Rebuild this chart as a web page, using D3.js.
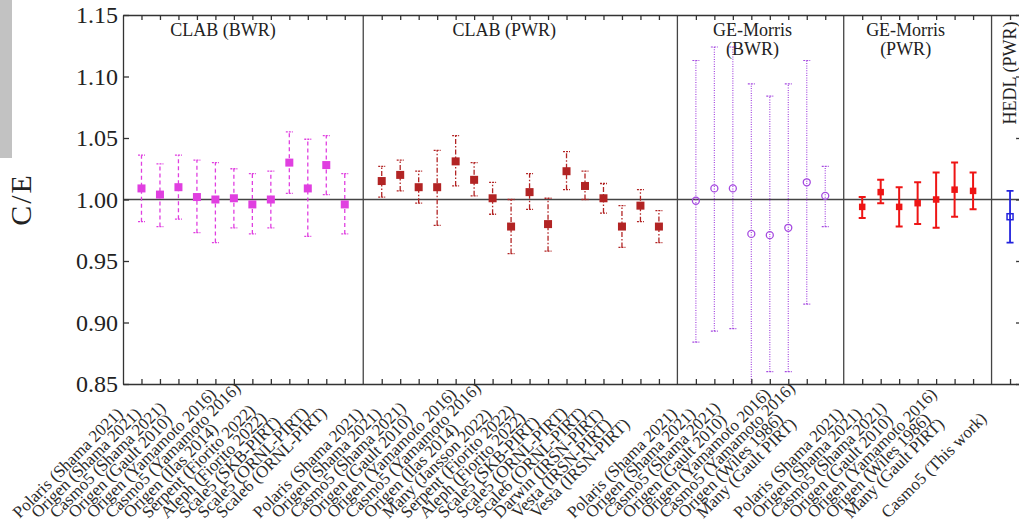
<!DOCTYPE html>
<html>
<head>
<meta charset="utf-8">
<script src="https://cdn.jsdelivr.net/npm/d3@7"></script>
<style>
  body { margin: 0; background: #fff; }
  svg { display: block; }
  text { font-family: "Liberation Serif", "Times New Roman", serif; fill: #222; }
</style>
</head>
<body>
<svg id="chart"></svg>
<script>
// ---- data (C/E value, lower and upper error bar ends) ----
var clabBwrLabels = ["Polaris (Shama 2021)", "Origen (Shama 2021)", "Casmo5 (Shama 2021)", "Origen (Gault 2010)",
    "Origen (Yamamoto 2016)", "Casmo5 (Yamamoto 2016)", "Origen (Ilas 2014)", "Serpent (Fiorito 2022)",
    "Aleph (Fiorito 2022)", "Scale5 (SKB-PIRT)", "Scale5 (ORNL-PIRT)", "Scale6 (ORNL-PIRT)"];
var clabBwrCE = [1.009, 1.004, 1.010, 1.002, 1.000, 1.001, 0.996, 1.000, 1.030, 1.009, 1.028, 0.996];
var clabBwrLo = [0.982, 0.978, 0.984, 0.973, 0.965, 0.977, 0.972, 0.977, 1.005, 0.970, 1.004, 0.972];
var clabBwrHi = [1.036, 1.029, 1.036, 1.032, 1.030, 1.025, 1.021, 1.023, 1.055, 1.049, 1.052, 1.021];

var clabPwrLabels = ["Polaris (Shama 2021)", "Origen (Shama 2021)", "Casmo5 (Shama 2021)", "Origen (Gault 2010)",
    "Origen (Yamamoto 2016)", "Casmo5 (Yamamoto 2016)", "Origen (Ilas 2014)", "Many (Jansson 2022)",
    "Serpent (Fiorito 2022)", "Aleph (Fiorito 2022)", "Scale5 (SKB-PIRT)", "Scale5 (ORNL-PIRT)",
    "Scale6 (ORNL-PIRT)", "Darwin (IRSN-PIRT)", "Vesta (IRSN-PIRT)", "Vesta (IRSN-PIRT)"];
var clabPwrCE = [1.015, 1.020, 1.010, 1.010, 1.031, 1.016, 1.001, 0.978, 1.006, 0.980, 1.023, 1.011, 1.001, 0.978, 0.995, 0.978];
var clabPwrLo = [1.002, 1.007, 0.997, 0.979, 1.011, 1.003, 0.988, 0.956, 0.992, 0.958, 1.008, 1.000, 0.989, 0.961, 0.982, 0.965];
var clabPwrHi = [1.027, 1.032, 1.023, 1.040, 1.052, 1.030, 1.014, 1.000, 1.021, 1.001, 1.039, 1.023, 1.013, 0.995, 1.008, 0.991];

var geBwrLabels = ["Polaris (Shama 2021)", "Origen (Shama 2021)", "Casmo5 (Shama 2021)", "Origen (Gault 2010)",
    "Origen (Yamamoto 2016)", "Casmo5 (Yamamoto 2016)", "Origen (Wiles 1986)", "Many (Gault PIRT)"];
var geBwrCE = [0.999, 1.009, 1.009, 0.972, 0.971, 0.977, 1.014, 1.003];
var geBwrLo = [0.884, 0.893, 0.895, 0.840, 0.860, 0.860, 0.915, 0.978];
var geBwrHi = [1.113, 1.124, 1.124, 1.094, 1.084, 1.094, 1.113, 1.027];

var gePwrLabels = ["Polaris (Shama 2021)", "Origen (Shama 2021)", "Casmo5 (Shama 2021)", "Origen (Gault 2010)",
    "Origen (Yamamoto 2016)", "Origen (Wiles 1986)", "Many (Gault PIRT)"];
var gePwrCE = [0.994, 1.006, 0.994, 0.997, 1.000, 1.008, 1.007];
var gePwrLo = [0.985, 0.997, 0.978, 0.980, 0.977, 0.986, 0.992];
var gePwrHi = [1.002, 1.016, 1.010, 1.014, 1.022, 1.030, 1.022];

var hedlLabels = ["Casmo5 (This work)"];
var hedlCE = [0.986];
var hedlLo = [0.965];
var hedlHi = [1.007];

var groupTitles = [["CLAB (BWR)"], ["CLAB (PWR)"], ["GE-Morris", "(BWR)"], ["GE-Morris", "(PWR)"], ["HEDL (PWR)"]];
var yTicks = [0.85, 0.90, 0.95, 1.00, 1.05, 1.10, 1.15];

// ---- layout ----
var w = 1019, h = 528;
var step = 18.48;
var plotLeft = 123, plotTop = 15, plotBottom = 384;
var xMax = 48.6;

var groups = [
    { labels: clabBwrLabels, ce: clabBwrCE, lo: clabBwrLo, hi: clabBwrHi, title: groupTitles[0],
      color: "#e03fe0", dash: "4,3", width: 1.3, marker: "square", size: 8, titleDx: -20 },
    { labels: clabPwrLabels, ce: clabPwrCE, lo: clabPwrLo, hi: clabPwrHi, title: groupTitles[1],
      color: "#b22424", dash: "5,2,1.5,2", width: 1.3, marker: "square", size: 8, titleDx: -16 },
    { labels: geBwrLabels, ce: geBwrCE, lo: geBwrLo, hi: geBwrHi, title: groupTitles[2],
      color: "#a64be0", dash: "1,1.4", width: 1.2, marker: "circle", size: 7, titleDx: -8 },
    { labels: gePwrLabels, ce: gePwrCE, lo: gePwrLo, hi: gePwrHi, title: groupTitles[3],
      color: "#ee1515", dash: null, width: 2, marker: "square", size: 6.5, titleDx: -12 },
    { labels: hedlLabels, ce: hedlCE, lo: hedlLo, hi: hedlHi, title: groupTitles[4],
      color: "#2323dd", dash: null, width: 1.8, marker: "open", size: 6, titleDx: 0 }
];

// give every point a slot on the x axis, one empty slot between groups
var points = [], separators = [];
var slot = 1;
groups.forEach(function(g, gi) {
    g.start = slot;
    g.labels.forEach(function(lab, i) {
        points.push({ slot: slot, label: lab, ce: g.ce[i], lo: g.lo[i], hi: g.hi[i], g: g });
        slot++;
    });
    g.end = slot - 1;
    if (gi < groups.length - 1) { separators.push(slot); slot++; }
});

var x = d3.scaleLinear().domain([0, xMax]).range([plotLeft, plotLeft + xMax * step]);
var y = d3.scaleLinear().domain([0.85, 1.15]).range([plotBottom, plotTop]);

var svg = d3.select("#chart").attr("width", w).attr("height", h);

// grey strip at the left edge of the picture
svg.append("rect").attr("x", 0).attr("y", 0).attr("width", 12).attr("height", 158).attr("fill", "#c2c2c2");

svg.append("clipPath").attr("id", "plot")
    .append("rect").attr("x", plotLeft).attr("y", plotTop)
    .attr("width", x(xMax) - plotLeft).attr("height", plotBottom - plotTop);

var plot = svg.append("g").attr("clip-path", "url(#plot)");

// reference line at C/E = 1
plot.append("line")
    .attr("x1", plotLeft).attr("x2", x(xMax))
    .attr("y1", y(1)).attr("y2", y(1))
    .attr("stroke", "#444").attr("stroke-width", 1.3);

// group separators
plot.selectAll(".sep").data(separators).enter().append("line")
    .attr("x1", function(d) { return x(d); }).attr("x2", function(d) { return x(d); })
    .attr("y1", plotTop).attr("y2", plotBottom)
    .attr("stroke", "#444").attr("stroke-width", 1.3);

// error bars
var bars = plot.selectAll(".bar").data(points).enter().append("g");
bars.append("line")
    .attr("x1", function(d) { return x(d.slot); }).attr("x2", function(d) { return x(d.slot); })
    .attr("y1", function(d) { return y(d.lo); }).attr("y2", function(d) { return y(d.hi); })
    .attr("stroke", function(d) { return d.g.color; })
    .attr("stroke-width", function(d) { return d.g.width; })
    .attr("stroke-dasharray", function(d) { return d.g.dash; });
["lo", "hi"].forEach(function(k) {
    bars.append("line")
        .attr("x1", function(d) { return x(d.slot) - 3.5; }).attr("x2", function(d) { return x(d.slot) + 3.5; })
        .attr("y1", function(d) { return y(d[k]); }).attr("y2", function(d) { return y(d[k]); })
        .attr("stroke", function(d) { return d.g.color; })
        .attr("stroke-width", function(d) { return d.g.width; })
        .attr("stroke-dasharray", function(d) { return d.g.dash ? "2,1" : null; });
});

// markers
bars.filter(function(d) { return d.g.marker === "square"; }).append("rect")
    .attr("x", function(d) { return x(d.slot) - d.g.size / 2; })
    .attr("y", function(d) { return y(d.ce) - d.g.size / 2; })
    .attr("width", function(d) { return d.g.size; })
    .attr("height", function(d) { return d.g.size; })
    .attr("fill", function(d) { return d.g.color; });
bars.filter(function(d) { return d.g.marker === "open"; }).append("rect")
    .attr("x", function(d) { return x(d.slot) - d.g.size / 2; })
    .attr("y", function(d) { return y(d.ce) - d.g.size / 2; })
    .attr("width", function(d) { return d.g.size; })
    .attr("height", function(d) { return d.g.size; })
    .attr("fill", "none")
    .attr("stroke", function(d) { return d.g.color; })
    .attr("stroke-width", 1.5);
bars.filter(function(d) { return d.g.marker === "circle"; }).append("circle")
    .attr("cx", function(d) { return x(d.slot); })
    .attr("cy", function(d) { return y(d.ce); })
    .attr("r", function(d) { return d.g.size / 2; })
    .attr("fill", "none")
    .attr("stroke", function(d) { return d.g.color; })
    .attr("stroke-width", 1.3);

// axes (ticks pointing inward)
var slots = points.map(function(d) { return d.slot; });
function styleAxis(g) {
    g.selectAll("path, line").attr("stroke", "#333").attr("stroke-width", 1.3);
}
svg.append("g").attr("transform", "translate(0," + plotBottom + ")")
    .call(d3.axisBottom(x).tickValues(slots).tickSize(-5).tickSizeOuter(0).tickFormat(""))
    .call(styleAxis);
svg.append("g").attr("transform", "translate(0," + plotTop + ")")
    .call(d3.axisTop(x).tickValues(slots).tickSize(-5).tickSizeOuter(0).tickFormat(""))
    .call(styleAxis);
svg.append("g").attr("transform", "translate(" + x(xMax) + ",0)")
    .call(d3.axisRight(y).tickValues(yTicks).tickSize(-5).tickSizeOuter(0).tickFormat(""))
    .call(styleAxis);
var yAxis = svg.append("g").attr("transform", "translate(" + plotLeft + ",0)")
    .call(d3.axisLeft(y).tickValues(yTicks).tickSize(-6).tickSizeOuter(0).tickPadding(5).tickFormat(d3.format(".2f")))
    .call(styleAxis);
yAxis.selectAll("text")
    .style("font-family", "'Liberation Serif', serif")
    .style("font-size", "24px")
    .attr("fill", "#222");

// y axis title
svg.append("text")
    .attr("transform", "translate(31," + y(1) + ") rotate(-90)")
    .attr("text-anchor", "middle")
    .style("font-size", "30px")
    .style("letter-spacing", "2px")
    .text("C/E");

// rotated x labels, left ends lined up
svg.selectAll(".xlab").data(points).enter().append("text")
    .attr("transform", function(d) { return "translate(" + (x(d.slot) - 122) + ",519) rotate(-45)"; })
    .attr("text-anchor", "start")
    .style("font-size", "17px")
    .style("fill", "#2a2a2a")
    .text(function(d) { return d.label; });

// group titles
groups.forEach(function(g, gi) {
    var cx = x((g.start + g.end) / 2) + g.titleDx;
    if (gi === groups.length - 1) {
        svg.append("text")
            .attr("transform", "translate(" + (cx + 6) + ",73) rotate(-90)")
            .attr("text-anchor", "middle")
            .style("font-size", "18px")
            .text(g.title[0]);
        return;
    }
    g.title.forEach(function(line, li) {
        svg.append("text")
            .attr("x", cx).attr("y", 36 + li * 19)
            .attr("text-anchor", "middle")
            .style("font-size", "18px")
            .text(line);
    });
});
</script>
</body>
</html>
